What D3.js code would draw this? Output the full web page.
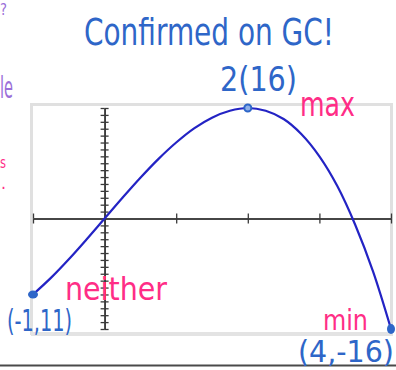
<!DOCTYPE html>
<html>
<head>
<meta charset="utf-8">
<script src="https://cdn.jsdelivr.net/npm/d3@7"></script>
<style>
  html, body { margin: 0; padding: 0; background: #fff; }
  svg { display: block; }
  .hand { font-family: "DejaVu Sans Condensed", "DejaVu Sans", sans-serif; }
</style>
</head>
<body>
<svg id="chart" width="396" height="370"></svg>
<script>
// Sampled points of the graphed curve (x, y)
const xValues = [-1, -0.75, -0.5, -0.25, 0, 0.25, 0.5, 0.75, 1, 1.25, 1.5, 1.75, 2,
                 2.25, 2.5, 2.75, 3, 3.25, 3.5, 3.75, 4];
const yValues = [-11, -8.6, -5.9, -3, 0, 3, 5.9, 8.6, 11, 13.05, 14.6, 15.6, 16,
                 15.6, 14.4, 12.2, 9, 4.7, -0.9, -7.7, -16];

// Window settings of the calculator view
const xDomain = [-1, 4];
const yDomain = [-16, 16];
const xTicks = [-1, 0, 1, 2, 3, 4];
const yTicks = d3.range(-16, 17, 1).filter(v => v !== 0);

// Marked points
const markX = [-1, 2, 4];
const markY = [-11, 16, -16];

const svg = d3.select("#chart");

const x = d3.scaleLinear().domain(xDomain).range([33, 391]);
const y = d3.scaleLinear().domain(yDomain).range([329, 108]);

// calculator screen frame
svg.append("rect")
  .attr("x", 31.5).attr("y", 104.5).attr("width", 360).attr("height", 229)
  .attr("fill", "#fff").attr("stroke", "#e0e0e0").attr("stroke-width", 3);
svg.append("rect")
  .attr("x", 31).attr("y", 332).attr("width", 362).attr("height", 4)
  .attr("fill", "#e3e3e3");

// axes: ticks on both sides of each axis line
const axisColor = "#3a3a3a";
function styleAxis(g) {
  g.selectAll("path.domain").attr("stroke", axisColor).attr("stroke-width", 1.5);
  g.selectAll(".tick line").attr("stroke", axisColor).attr("stroke-width", 1.3);
  g.selectAll(".tick text").remove();
}
svg.append("g").attr("transform", `translate(0,${y(0)})`)
  .call(d3.axisTop(x).tickValues(xTicks).tickSizeInner(5).tickSizeOuter(0).tickFormat(""))
  .call(styleAxis);
svg.append("g").attr("transform", `translate(0,${y(0)})`)
  .call(d3.axisBottom(x).tickValues(xTicks).tickSizeInner(5).tickSizeOuter(0).tickFormat(""))
  .call(styleAxis);
svg.append("g").attr("transform", `translate(${x(0)},0)`)
  .call(d3.axisLeft(y).tickValues(yTicks).tickSizeInner(4).tickSizeOuter(0).tickFormat(""))
  .call(styleAxis);
svg.append("g").attr("transform", `translate(${x(0)},0)`)
  .call(d3.axisRight(y).tickValues(yTicks).tickSizeInner(4).tickSizeOuter(0).tickFormat(""))
  .call(styleAxis);

// the graph
const pts = xValues.map((v, i) => [v, yValues[i]]);
const line = d3.line().x(d => x(d[0])).y(d => y(d[1])).curve(d3.curveCatmullRom);
svg.append("path").datum(pts)
  .attr("d", line)
  .attr("fill", "none")
  .attr("stroke", "#2323c4")
  .attr("stroke-width", 2.2);

// marked points
const blue = "#2e66c8";
const pink = "#ff2d86";
const purple = "#9b6fd9";
svg.append("ellipse").attr("cx", x(markX[0])).attr("cy", y(markY[0]))
  .attr("rx", 5).attr("ry", 4).attr("fill", blue);
svg.append("circle").attr("cx", x(markX[1])).attr("cy", y(markY[1]))
  .attr("r", 3.5).attr("fill", "#8fb0e8").attr("stroke", blue).attr("stroke-width", 2);
svg.append("ellipse").attr("cx", x(markX[2])).attr("cy", y(markY[2]))
  .attr("rx", 4).attr("ry", 5).attr("fill", blue);

// bottom separator
svg.append("rect").attr("x", 0).attr("y", 364.5).attr("width", 396).attr("height", 2)
  .attr("fill", "#4a4a4a");

// handwritten notes
const notes = [
  { t: "Confirmed on GC!", x: 84, y: 45, s: 38, w: 250, c: blue },
  { t: "2(16)", x: 220, y: 91, s: 33, w: 77, c: blue },
  { t: "max", x: 300, y: 116, s: 34, w: 55, c: pink },
  { t: "neither", x: 65, y: 300, s: 32, w: 102, c: pink },
  { t: "(-1,11)", x: 7, y: 331, s: 31, w: 65, c: blue },
  { t: "min", x: 323, y: 330, s: 28, w: 45, c: pink },
  { t: "(4,-16)", x: 298, y: 362, s: 30, w: 96, c: blue },
  { t: "?", x: 0, y: 15, s: 16, w: 7, c: purple },
  { t: "le", x: 0, y: 98, s: 30, w: 13, c: purple },
  { t: "s", x: 0, y: 168, s: 16, w: 6, c: pink },
  { t: ".", x: 1, y: 189, s: 18, w: 5, c: pink }
];
svg.selectAll("text.hand").data(notes).join("text")
  .attr("class", "hand")
  .attr("x", d => d.x).attr("y", d => d.y)
  .attr("font-size", d => d.s)
  .attr("textLength", d => d.w)
  .attr("lengthAdjust", "spacingAndGlyphs")
  .attr("fill", d => d.c)
  .text(d => d.t);
</script>
</body>
</html>
